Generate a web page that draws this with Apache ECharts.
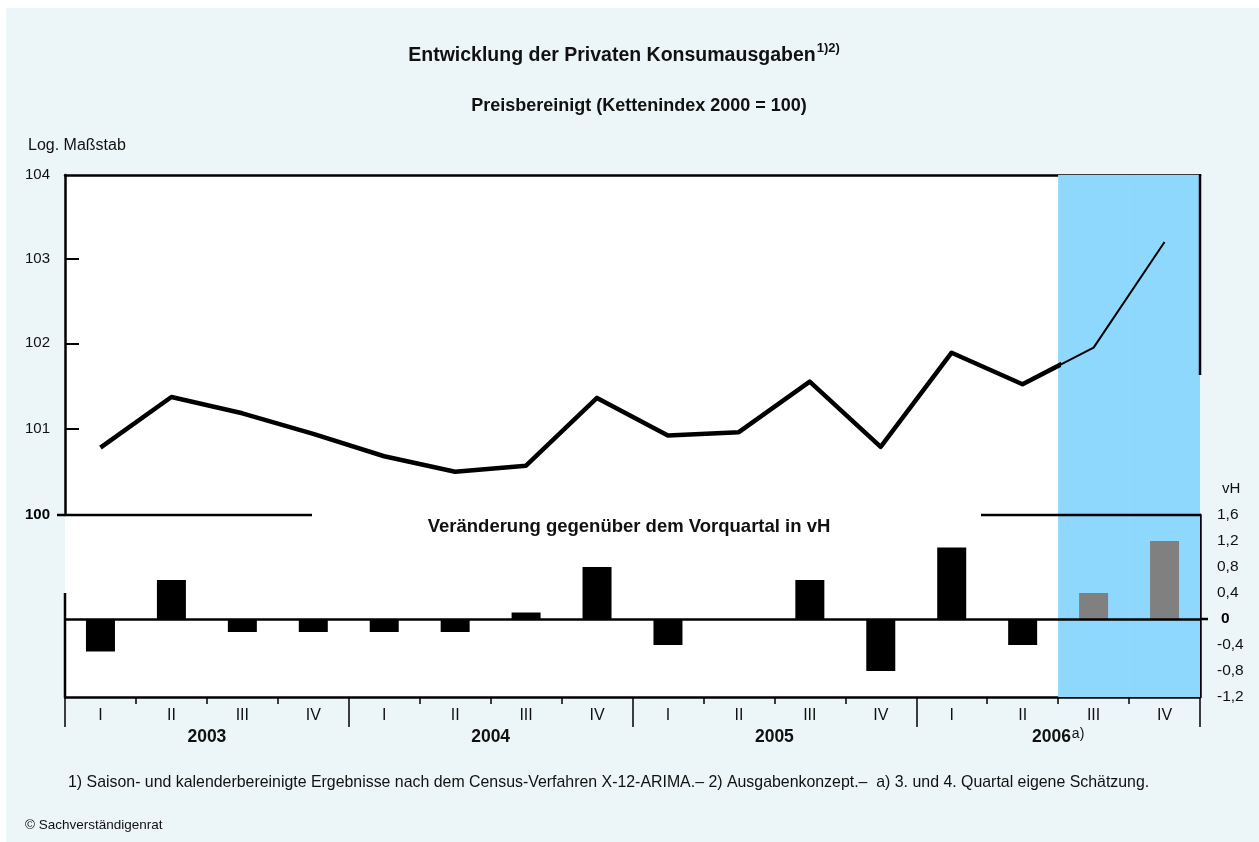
<!DOCTYPE html>
<html>
<head>
<meta charset="utf-8">
<script src="https://cdn.jsdelivr.net/npm/echarts@6/dist/echarts.min.js"></script>
<style>
  body { margin: 0; background: #fff; }
  #bg { position: absolute; left: 6px; top: 8px; right: 0; bottom: 0; background: #ECF5F8; }
  #chart { position: absolute; left: 0; top: 0; width: 1259px; height: 842px; }
</style>
</head>
<body>
<div id="bg"></div>
<div id="chart"></div>
<script>
// Daten
var years = ['2003', '2004', '2005', '2006'];
var quarters = ['I', 'II', 'III', 'IV'];
// Kettenindex 2000 = 100, saisonbereinigt
var levels = [100.78, 101.37, 101.18, 100.94, 100.68, 100.50, 100.57, 101.36,
              100.92, 100.96, 101.55, 100.79, 101.89, 101.52, 101.95, 103.20];
// Veränderung gegenüber dem Vorquartal in vH
var changes = [-0.5, 0.6, -0.2, -0.2, -0.2, -0.2, 0.1, 0.8,
               -0.4, 0.0, 0.6, -0.8, 1.1, -0.4, 0.4, 1.2];
// 1 = eigene Schätzung (2006 III und IV)
var estimate = [0, 0, 0, 0, 0, 0, 0, 0, 0, 0, 0, 0, 0, 0, 1, 1];
var levelTicks = [100, 101, 102, 103, 104];

var quarterCats = [];
years.forEach(function (y) {
    quarters.forEach(function (q) { quarterCats.push(y + ' ' + q); });
});
var lastActual = estimate.indexOf(1) - 1; // 2006 II

var FONT = '"Liberation Sans", Arial, sans-serif';
var BLACK = '#000';

let myChart = echarts.init(document.getElementById('chart'), null, { renderer: 'canvas' });

// Linie: dick bis zum Beginn der Schätzung, danach dünn
var thickData = [];
var thinData = [];
levels.forEach(function (v, i) {
    if (i <= lastActual + 1) thickData.push([i + 0.5, v]);
    if (i >= lastActual) thinData.push([i + 0.5, v]);
});

var barData = changes.map(function (v, i) {
    return { value: v, itemStyle: { color: estimate[i] ? '#808080' : '#000' } };
});
var shadeData = estimate.map(function (e) { return e ? 1 : null; });

let option = {
    backgroundColor: 'transparent',
    animation: false,
    textStyle: { fontFamily: FONT },
    title: [
        {
            text: '{t|Entwicklung der Privaten Konsumausgaben}{s|1)2)}',
            left: 619, top: 37, textAlign: 'center',
            textStyle: {
                rich: {
                    t: { fontFamily: FONT, fontSize: 19.5, fontWeight: 'bold', color: '#111', lineHeight: 28 },
                    s: { fontFamily: FONT, fontSize: 13, color: '#111', verticalAlign: 'top', lineHeight: 14, padding: [0, 0, 10, 1] }
                }
            }
        },
        {
            text: 'Preisbereinigt (Kettenindex 2000 = 100)',
            left: 634, top: 92, textAlign: 'center',
            textStyle: { fontFamily: FONT, fontSize: 18, fontWeight: 'bold', color: '#111' }
        }
    ],
    grid: [
        // 0: Rahmen, Schattierung und Zeitachse
        { left: 65, right: 59, top: 175, bottom: 145, show: true, backgroundColor: '#fff', borderWidth: 0 },
        // 1: Kettenindex (dünne Linie)
        { left: 65, right: 59, top: 175, bottom: 327 },
        // 2: Kettenindex (dicke Linie, bis Schätzbeginn abgeschnitten)
        { left: 65, right: 201, top: 175, bottom: 327 },
        // 3: Veränderungsraten
        { left: 65, right: 59, top: 515, bottom: 145 }
    ],
    xAxis: [
        {
            gridIndex: 0, type: 'category', data: quarterCats, position: 'bottom',
            axisLine: { show: true, lineStyle: { color: BLACK, width: 2.5 } },
            axisTick: { show: true, interval: 0, length: 7, lineStyle: { color: BLACK, width: 1.5 } },
            axisLabel: {
                margin: 11, fontSize: 16, color: '#111', interval: 0,
                formatter: function (v) { return v.split(' ')[1]; }
            }
        },
        {
            gridIndex: 0, type: 'category', data: years, position: 'bottom',
            axisLine: { show: false },
            axisTick: { show: true, interval: 0, length: 30, lineStyle: { color: BLACK, width: 1.5 } },
            axisLabel: {
                margin: 30, interval: 0,
                formatter: function (v) {
                    return v === '2006' ? '{y|' + v + '}{s|a)}' : '{y|' + v + '}';
                },
                rich: {
                    y: { fontFamily: FONT, fontSize: 17.5, fontWeight: 'bold', color: '#111', lineHeight: 20 },
                    s: { fontFamily: FONT, fontSize: 14, color: '#111', verticalAlign: 'top', lineHeight: 14, padding: [0, 0, 8, 1] }
                }
            }
        },
        {
            gridIndex: 1, type: 'value', min: 0, max: 16, position: 'top',
            axisLine: { show: true, onZero: false, lineStyle: { color: BLACK, width: 2.5 } },
            axisTick: { show: false }, axisLabel: { show: false }, splitLine: { show: false }
        },
        { gridIndex: 2, type: 'value', min: 0, max: 14, show: false },
        { gridIndex: 3, type: 'category', data: quarterCats, show: false }
    ],
    yAxis: [
        { gridIndex: 0, type: 'value', min: 0, max: 1, show: false },
        {
            gridIndex: 1, type: 'log', min: 100, max: 104, position: 'left',
            axisLine: { show: true, lineStyle: { color: BLACK, width: 2.5 } },
            axisTick: { show: true, inside: true, length: 14, customValues: [101, 102, 103], lineStyle: { color: BLACK, width: 2 } },
            axisLabel: {
                margin: 15, fontSize: 15, color: '#111', customValues: levelTicks,
                formatter: function (v) {
                    var r = Math.round(v);
                    return r === 100 ? '{b|100}' : String(r);
                },
                rich: { b: { fontFamily: FONT, fontSize: 15, fontWeight: 'bold', color: '#000' } }
            },
            splitLine: { show: false }
        },
        { gridIndex: 2, type: 'log', min: 100, max: 104, show: false },
        {
            gridIndex: 3, type: 'value', min: -1.2, max: 1.6, interval: 0.4, position: 'right',
            axisLine: { show: true, onZero: false, lineStyle: { color: BLACK, width: 2.5 } },
            axisTick: { show: true, inside: true, length: 14, lineStyle: { color: BLACK, width: 2 } },
            axisLabel: {
                margin: 17, fontSize: 15.5, color: '#111',
                formatter: function (v) {
                    var r = Math.round(v * 10) / 10;
                    return r === 0 ? '{b|0}' : r.toFixed(1).replace('.', ',');
                },
                rich: { b: { fontFamily: FONT, fontSize: 15.5, fontWeight: 'bold', color: '#000', padding: [0, 0, 0, 4] } }
            },
            splitLine: { show: false }
        }
    ],
    series: [
        {
            name: 'Schätzung', type: 'bar', xAxisIndex: 0, yAxisIndex: 0,
            data: shadeData, barWidth: '100%', barCategoryGap: 0,
            itemStyle: { color: '#8ED8FE' }, silent: true, z: 1
        },
        {
            name: 'Kettenindex Schätzung', type: 'line', xAxisIndex: 2, yAxisIndex: 1,
            data: thinData, symbol: 'none',
            lineStyle: { color: BLACK, width: 2 }, z: 3
        },
        {
            name: 'Kettenindex', type: 'line', xAxisIndex: 3, yAxisIndex: 2,
            data: thickData, symbol: 'none', clip: true,
            lineStyle: { color: BLACK, width: 4.5, join: 'round' }, z: 4
        },
        {
            name: 'Veränderung', type: 'bar', xAxisIndex: 4, yAxisIndex: 3,
            data: barData, barWidth: 29, z: 3,
            markLine: {
                silent: true, symbol: 'none', label: { show: false },
                lineStyle: { color: BLACK, width: 2.5, type: 'solid' },
                data: [{ yAxis: 0 }]
            }
        }
    ],
    graphic: [
        // Rahmenteile
        { type: 'line', shape: { x1: 1200, y1: 174, x2: 1200, y2: 375 }, style: { stroke: BLACK, lineWidth: 2.5 }, z: 10 },
        { type: 'line', shape: { x1: 57, y1: 515, x2: 312, y2: 515 }, style: { stroke: BLACK, lineWidth: 2.5 }, z: 10 },
        { type: 'line', shape: { x1: 981, y1: 515, x2: 1201, y2: 515 }, style: { stroke: BLACK, lineWidth: 2.5 }, z: 10 },
        { type: 'line', shape: { x1: 65, y1: 593, x2: 65, y2: 697 }, style: { stroke: BLACK, lineWidth: 2.5 }, z: 10 },
        { type: 'line', shape: { x1: 1200, y1: 619, x2: 1208, y2: 619 }, style: { stroke: BLACK, lineWidth: 2.5 }, z: 10 },
        // Texte
        { type: 'text', left: 28, top: 138, style: { text: 'Log. Maßstab', font: '16px ' + FONT, fill: '#111' } },
        { type: 'text', left: 1222, top: 481, style: { text: 'vH', font: '15px ' + FONT, fill: '#111' } },
        { type: 'text', x: 629, y: 527, style: { text: 'Veränderung gegenüber dem Vorquartal in vH', font: 'bold 18.5px ' + FONT, fill: '#111', align: 'center', verticalAlign: 'middle' }, z: 10 },
        { type: 'text', left: 68, top: 775, style: { text: '1) Saison- und kalenderbereinigte Ergebnisse nach dem Census-Verfahren X-12-ARIMA.– 2) Ausgabenkonzept.–  a) 3. und 4. Quartal eigene Schätzung.', font: '15.9px ' + FONT, fill: '#111' } },
        { type: 'text', left: 25, top: 818, style: { text: '© Sachverständigenrat', font: '13.5px ' + FONT, fill: '#111' } }
    ]
};
myChart.setOption(option);
</script>
</body>
</html>
